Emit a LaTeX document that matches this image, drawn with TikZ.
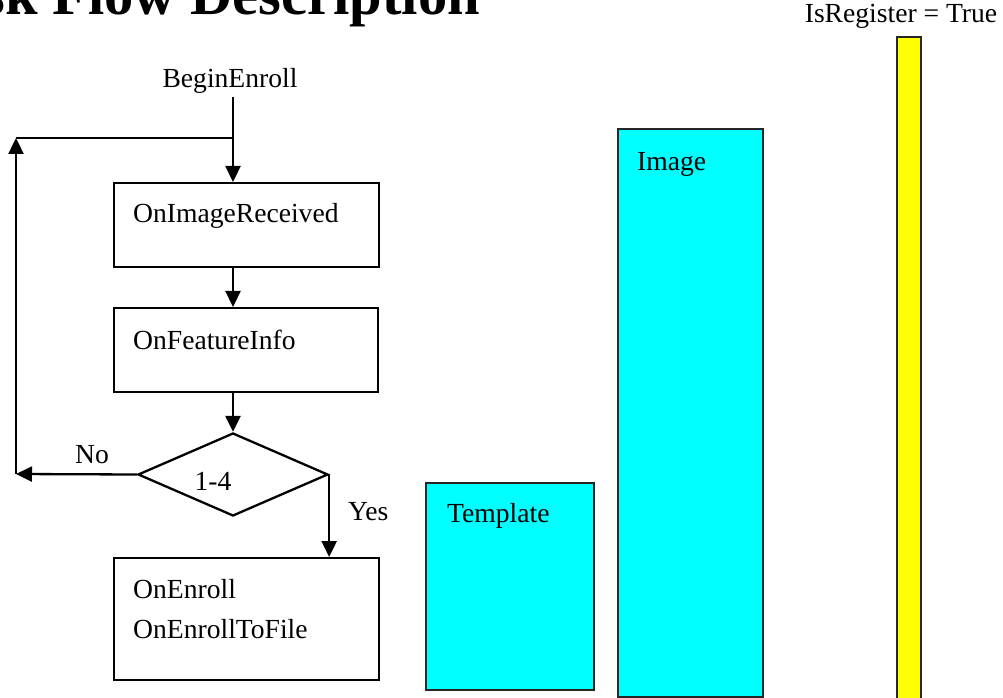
\documentclass[tikz,border=0pt]{standalone}
\usepackage{fontspec}
\setmainfont{Liberation Serif}
\usetikzlibrary{arrows.meta,shapes.geometric}
\definecolor{cyanfill}{HTML}{00FFFF}
\definecolor{yellowfill}{HTML}{FFFF00}
\newcommand{\txtfont}{\fontsize{27.6}{33}\selectfont}
\newcommand{\ttlfont}{\fontsize{58.5}{70}\selectfont\bfseries}
\begin{document}
\begin{tikzpicture}[x=1pt,y=1pt,
  stepbox/.style={draw, line width=2.3pt, inner sep=0pt, anchor=north west},
  lbl/.style={inner sep=0pt, font=\txtfont},
  arr/.style={-{Triangle[length=16pt,width=15pt]}, line width=2.3pt},
  ln/.style={line width=2.3pt},
  decision/.style={draw, diamond, line width=2.3pt, inner sep=0pt, minimum width=190pt, minimum height=83pt},
  cbox/.style={draw=black!85, fill=cyanfill, line width=2.3pt, inner sep=0pt, anchor=north west},
  ybox/.style={draw=black!85, fill=yellowfill, line width=2.3pt}]
\useasboundingbox (0,0) rectangle (1003,697);
\clip (0,0) rectangle (1003,697);
% title
\node[inner sep=0pt, font=\ttlfont, anchor=base east] (title) at (480,682) {Task Flow Description};
% flowchart
\node[lbl, anchor=base] (begin) at (230,609) {BeginEnroll};
\coordinate (S) at (233,600);
\coordinate (J) at (233,559);
\coordinate (L) at (16,559);
\node[stepbox, minimum width=265pt, minimum height=84pt] (b1) at (113,515) {};
\node[lbl, anchor=base west] (t1) at (133,474) {OnImageReceived};
\node[stepbox, minimum width=264pt, minimum height=84pt] (b2) at (113,390) {};
\node[lbl, anchor=base west] (t2) at (133,348) {OnFeatureInfo};
\node[decision] (d) at (233,222.5) {};
\node[lbl, anchor=base] (t3) at (213,207) {1-4};
\coordinate (N) at (16,223);
\node[stepbox, minimum width=265pt, minimum height=122pt] (b3) at (113,140) {};
\node[lbl, anchor=base west] (t4) at (133,99) {OnEnroll};
\node[lbl, anchor=base west] (t5) at (133,59) {OnEnrollToFile};
\node[lbl, anchor=base west] (no) at (75,234) {No};
\node[lbl, anchor=base west] (yes) at (348,177) {Yes};
% connectors
\draw[ln] (S) -- (J);
\draw[arr] (J) -- (J |- b1.north);
\draw[ln] (J) -- (L);
\draw[arr] (J |- b1.south) -- (J |- b2.north);
\draw[arr] (J |- b2.south) -- (d.north);
\draw[arr] (d.west) -- (N);
\draw[arr] (N) -- (L);
\draw[arr] (d.east) -- (d.east |- b3.north);
% right blocks
\node[cbox, minimum width=168pt, minimum height=207pt] (tpl) at (425,215) {};
\node[lbl, anchor=base west] (ttpl) at (447,175) {Template};
\node[cbox, minimum width=145pt, minimum height=568pt] (img) at (617,569) {};
\node[lbl, anchor=base west] (timg) at (637,526) {Image};
\draw[ybox] (897,660) rectangle (921,-5);
\node[lbl, anchor=base] (reg) at (901,674) {IsRegister = True};
\end{tikzpicture}
\end{document}
